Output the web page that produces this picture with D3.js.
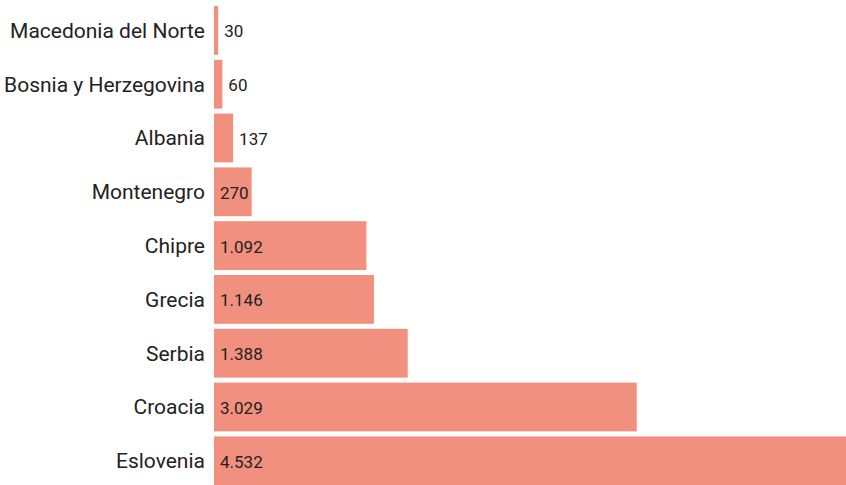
<!DOCTYPE html>
<html>
<head>
<meta charset="utf-8">
<script src="https://cdn.jsdelivr.net/npm/d3@7"></script>
<style>
  body { margin: 0; background: #fff; }
  text { font-family: Roboto, "Noto Sans", sans-serif; fill: #222; }
</style>
</head>
<body>
<div id="chart"></div>
<script>
  var countries = ["Macedonia del Norte", "Bosnia y Herzegovina", "Albania", "Montenegro",
                   "Chipre", "Grecia", "Serbia", "Croacia", "Eslovenia"];
  var values = [30, 60, 137, 270, 1092, 1146, 1388, 3029, 4532];
  var valueLabels = ["30", "60", "137", "270", "1.092", "1.146", "1.388", "3.029", "4.532"];

  var width = 846, height = 485;
  var marginLeft = 214, marginTop = 6, pitch = 53.8, gap = 5;

  var svg = d3.select("#chart")
              .append("svg")
              .attr("width", width)
              .attr("height", height);

  var x = d3.scaleLinear()
            .domain([0, 4532])
            .range([marginLeft, 846.5]);

  var pad = gap / pitch;
  var y = d3.scaleBand()
            .domain(countries)
            .range([marginTop, marginTop + pitch * (countries.length - pad)])
            .paddingInner(pad)
            .paddingOuter(0);

  var row = svg.selectAll(".row")
               .data(countries)
               .enter()
               .append("g")
               .attr("class", "row");

  row.append("rect")
     .attr("x", x(0))
     .attr("y", function(d) { return y(d); })
     .attr("width", function(d, i) { return x(values[i]) - x(0); })
     .attr("height", y.bandwidth())
     .attr("fill", "#f2907f");

  row.append("text")
     .attr("x", 205)
     .attr("y", function(d) { return y(d) + y.bandwidth() / 2; })
     .attr("dy", "0.35em")
     .attr("text-anchor", "end")
     .style("font-size", "21px")
     .text(function(d) { return d; });

  row.append("text")
     .attr("x", function(d, i) {
       var w = x(values[i]) - x(0);
       return w > 36 ? x(0) + 6 : x(values[i]) + 6;
     })
     .attr("y", function(d) { return y(d) + y.bandwidth() / 2 + 1; })
     .attr("dy", "0.35em")
     .style("font-size", "17px")
     .text(function(d, i) { return valueLabels[i]; });
</script>
</body>
</html>
